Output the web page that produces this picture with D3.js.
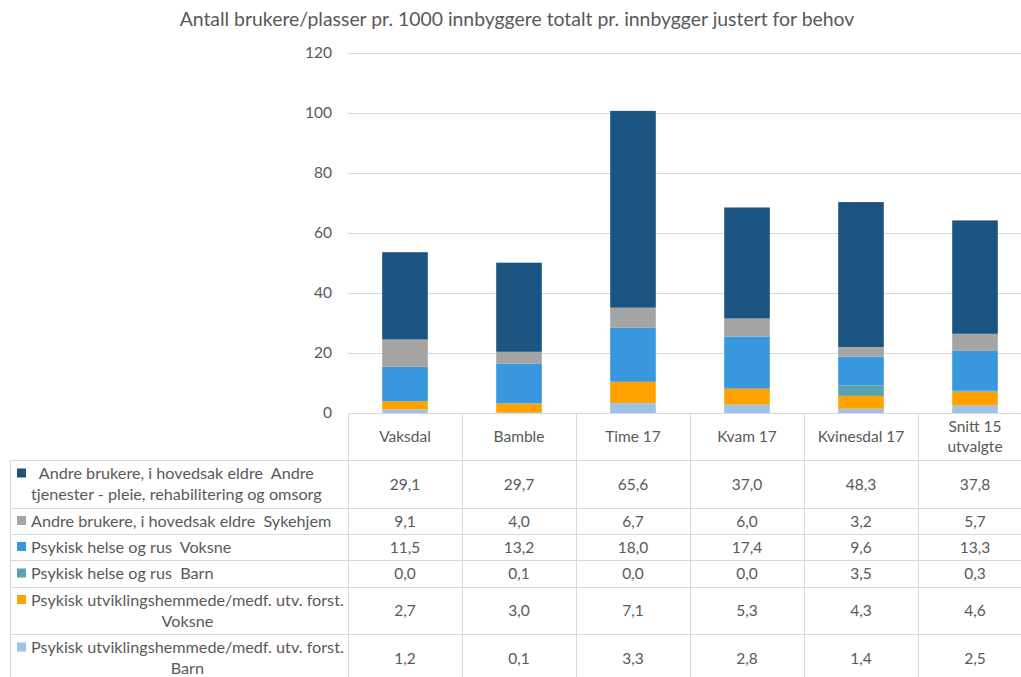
<!DOCTYPE html>
<html>
<head>
<meta charset="utf-8">
<script src="https://cdn.jsdelivr.net/npm/d3@7"></script>
<style>
  body { margin: 0; background: #fff; }
  svg { display: block; font-family: Lato, "Open Sans", sans-serif; }
  text { white-space: pre; }
</style>
</head>
<body>
<div id="graph"></div>
<script>
// categories (kommuner)
var categories = ["Vaksdal", "Bamble", "Time 17", "Kvam 17", "Kvinesdal 17", "Snitt 15 utvalgte"];
var categoryLines = [["Vaksdal"], ["Bamble"], ["Time 17"], ["Kvam 17"], ["Kvinesdal 17"], ["Snitt 15", "utvalgte"]];

// series, stacked from bottom to top
var seriesNames = [
  "Psykisk utviklingshemmede/medf. utv. forst. Barn",
  "Psykisk utviklingshemmede/medf. utv. forst. Voksne",
  "Psykisk helse og rus  Barn",
  "Psykisk helse og rus  Voksne",
  "Andre brukere, i hovedsak eldre  Sykehjem",
  "Andre brukere, i hovedsak eldre  Andre tjenester - pleie, rehabilitering og omsorg"
];
var seriesLines = [
  ["Psykisk utviklingshemmede/medf. utv. forst.", "Barn"],
  ["Psykisk utviklingshemmede/medf. utv. forst.", "Voksne"],
  ["Psykisk helse og rus  Barn"],
  ["Psykisk helse og rus  Voksne"],
  ["Andre brukere, i hovedsak eldre  Sykehjem"],
  ["Andre brukere, i hovedsak eldre  Andre", "tjenester - pleie, rehabilitering og omsorg"]
];
var colors = ["#9dc3e6", "#ffa200", "#5aa3ae", "#3897dd", "#a5a5a5", "#1b5381"];

var utvBarn    = [1.2, 0.1, 3.3, 2.8, 1.4, 2.5];
var utvVoksne  = [2.7, 3.0, 7.1, 5.3, 4.3, 4.6];
var psykBarn   = [0.0, 0.1, 0.0, 0.0, 3.5, 0.3];
var psykVoksne = [11.5, 13.2, 18.0, 17.4, 9.6, 13.3];
var sykehjem   = [9.1, 4.0, 6.7, 6.0, 3.2, 5.7];
var andreTjen  = [29.1, 29.7, 65.6, 37.0, 48.3, 37.8];
var seriesValues = [utvBarn, utvVoksne, psykBarn, psykVoksne, sykehjem, andreTjen];

var yTicks = [0, 20, 40, 60, 80, 100, 120];

var W = 1021, H = 677;
var plotLeft = 348, plotRight = 1032, plotTop = 53, plotBottom = 413;
var textColor = "#595959", lineColor = "#d9d9d9";

var svg = d3.select("#graph").append("svg")
    .attr("width", W)
    .attr("height", H);

// build table for stack
var rows = categories.map(function(c, i) {
  var r = {cat: c};
  seriesNames.forEach(function(s, j) { r[s] = seriesValues[j][i]; });
  return r;
});
var stacked = d3.stack().keys(seriesNames)(rows);

var x = d3.scaleBand()
    .domain(categories)
    .range([plotLeft, plotRight])
    .paddingInner(0.6)
    .paddingOuter(0.3);
var y = d3.scaleLinear()
    .domain([0, 120])
    .range([plotBottom, plotTop]);

// title
svg.append("text")
    .attr("x", 517)
    .attr("y", 26)
    .attr("text-anchor", "middle")
    .style("font-size", "19.4px")
    .style("fill", textColor)
    .text("Antall brukere/plasser pr. 1000 innbyggere totalt pr. innbygger justert for behov");

// gridlines + y axis labels
var yaxis = svg.append("g")
    .attr("transform", "translate(" + plotLeft + ",0)")
    .call(d3.axisLeft(y).tickValues(yTicks).tickSize(-(W - plotLeft)).tickPadding(16));
yaxis.select(".domain").remove();
yaxis.selectAll(".tick line").attr("stroke", lineColor).attr("stroke-width", 1);
yaxis.selectAll(".tick text")
    .style("font-size", "15.5px")
    .style("font-family", "Lato, sans-serif")
    .attr("fill", textColor);

// bars
svg.append("g").selectAll("g")
    .data(stacked)
    .enter().append("g")
    .attr("fill", function(d, i) { return colors[i]; })
    .selectAll("rect")
    .data(function(d) { return d; })
    .enter().append("rect")
    .attr("x", function(d) { return x(d.data.cat); })
    .attr("width", x.bandwidth())
    .attr("y", function(d) { return y(d[1]); })
    .attr("height", function(d) { return y(d[0]) - y(d[1]); });

// data table
var step = x.step();
var colEdges = categories.map(function(c) { return x(c) - (step - x.bandwidth()) / 2; });
var rowEdges = [413, 460, 508, 534, 560, 587, 634, 682];
var tableLeft = 10;
var table = svg.append("g");

// horizontal lines
rowEdges.forEach(function(ry, i) {
  table.append("line")
      .attr("x1", i < 1 ? plotLeft : tableLeft)
      .attr("x2", plotRight)
      .attr("y1", ry + 0.5).attr("y2", ry + 0.5)
      .attr("stroke", lineColor);
});
// vertical lines
table.append("line")
    .attr("x1", tableLeft + 0.5).attr("x2", tableLeft + 0.5)
    .attr("y1", rowEdges[1]).attr("y2", H)
    .attr("stroke", lineColor);
colEdges.concat([plotRight]).forEach(function(cx) {
  table.append("line")
      .attr("x1", Math.round(cx) + 0.5).attr("x2", Math.round(cx) + 0.5)
      .attr("y1", rowEdges[0]).attr("y2", H)
      .attr("stroke", lineColor);
});

// header labels
categories.forEach(function(c, i) {
  var cx = x(c) + x.bandwidth() / 2;
  var lines = categoryLines[i];
  var mid = (rowEdges[0] + rowEdges[1]) / 2;
  lines.forEach(function(l, k) {
    table.append("text")
        .attr("x", cx)
        .attr("y", mid + (k - (lines.length - 1) / 2) * 20 + 5)
        .attr("text-anchor", "middle")
        .style("font-size", "15.5px")
        .style("fill", textColor)
        .text(l);
  });
});

// body rows: top row = last series
var fmt = function(v) { return v.toFixed(1).replace(".", ","); };
var rowOrder = d3.range(seriesNames.length).reverse();
var legendText = 31, lineGap = 21;
rowOrder.forEach(function(si, r) {
  var top = rowEdges[r + 1], bottom = rowEdges[r + 2];
  var mid = (top + bottom) / 2;
  var lines = seriesLines[si];
  var firstY = mid - (lines.length - 1) / 2 * lineGap;
  table.append("rect")
      .attr("x", 17)
      .attr("y", firstY - 5)
      .attr("width", 9)
      .attr("height", 9)
      .attr("fill", colors[si]);
  var labels = lines.map(function(l, k) {
    return table.append("text")
        .attr("y", firstY + k * lineGap + 5.5)
        .style("font-size", "16.2px")
        .style("fill", textColor)
        .text(l);
  });
  // wrapped labels are centred on the widest line; single lines start after the marker
  var widths = labels.map(function(t) { return t.node().getComputedTextLength(); });
  var blockW = d3.max(widths);
  labels.forEach(function(t, k) {
    t.attr("x", legendText + (blockW - widths[k]) / 2);
  });
  categories.forEach(function(c, i) {
    table.append("text")
        .attr("x", x(c) + x.bandwidth() / 2)
        .attr("y", mid + 5.5)
        .attr("text-anchor", "middle")
        .style("font-size", "15.5px")
        .style("fill", textColor)
        .text(fmt(seriesValues[si][i]));
  });
});
</script>
</body>
</html>
